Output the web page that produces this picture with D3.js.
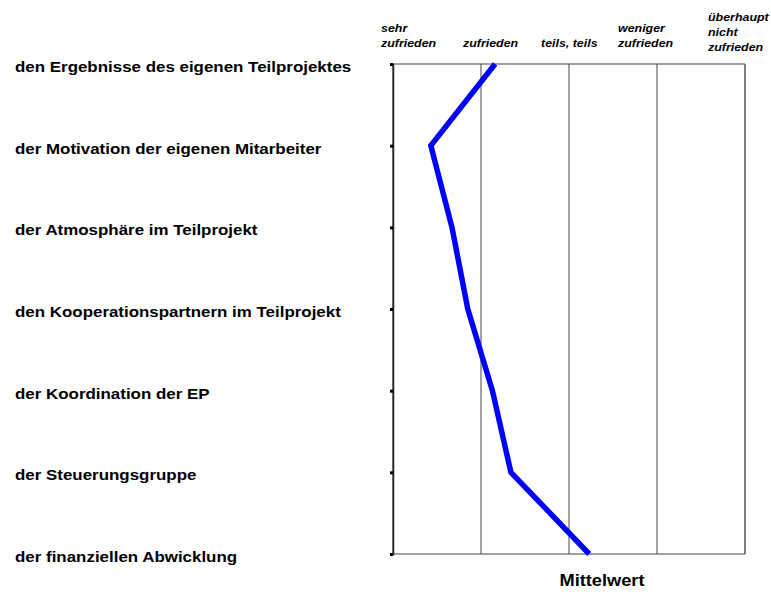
<!DOCTYPE html>
<html>
<head>
<meta charset="utf-8">
<script src="https://cdn.jsdelivr.net/npm/d3@7"></script>
<style>
  body { margin: 0; background: #fff; }
  text { font-family: Arial, 'Liberation Sans', sans-serif; }
</style>
</head>
<body>
<div id="chart"></div>
<script>
// Zufriedenheit mit ... (1 = sehr zufrieden, 5 = überhaupt nicht zufrieden)
const categories = [
  'den Ergebnisse des eigenen Teilprojektes',
  'der Motivation der eigenen Mitarbeiter',
  'der Atmosphäre im Teilprojekt',
  'den Kooperationspartnern im Teilprojekt',
  'der Koordination der EP',
  'der Steuerungsgruppe',
  'der finanziellen Abwicklung'
];
const mittelwerte = [2.16, 1.43, 1.67, 1.85, 2.13, 2.34, 3.23];
const scaleValues = [1, 2, 3, 4, 5];
const scaleLabels = [
  ['sehr', 'zufrieden'],
  ['zufrieden'],
  ['teils, teils'],
  ['weniger', 'zufrieden'],
  ['überhaupt', 'nicht', 'zufrieden']
];

const width = 771;
const height = 592;
const margin = { top: 64, right: 26, bottom: 38, left: 393 };

const svg = d3.select('#chart').append('svg')
  .attr('width', width)
  .attr('height', height);

const x = d3.scaleLinear()
  .domain([1, 5])
  .range([margin.left, width - margin.right]);

const y = d3.scalePoint()
  .domain(categories)
  .range([margin.top, height - margin.bottom]);

// vertical lines at each scale step
svg.append('g')
  .selectAll('line')
  .data(scaleValues)
  .enter().append('line')
    .attr('x1', d => x(d))
    .attr('x2', d => x(d))
    .attr('y1', y.range()[0])
    .attr('y2', y.range()[1])
    .attr('stroke', (d, i) => i === 0 || i === scaleValues.length - 1 ? '#000' : '#444')
    .attr('stroke-width', 1);

// top & bottom frame
svg.append('g')
  .selectAll('line')
  .data(y.range())
  .enter().append('line')
    .attr('x1', x(1))
    .attr('x2', x(5))
    .attr('y1', d => d)
    .attr('y2', d => d)
    .attr('stroke', '#444')
    .attr('stroke-width', 1);

// left axis with small ticks
const yAxis = d3.axisLeft(y).tickSize(3).tickFormat('');
svg.append('g')
  .attr('transform', `translate(${x(1)},0)`)
  .call(yAxis)
  .call(g => g.select('.domain').attr('stroke', '#222').attr('stroke-width', 1.5))
  .call(g => g.selectAll('.tick line').attr('stroke', '#000').attr('stroke-width', 3));

// category labels (the original font is drawn a bit wider)
svg.append('g')
  .selectAll('text')
  .data(categories)
  .enter().append('text')
    .attr('transform', d => `translate(15,${y(d) + 3}) scale(1.21,1)`)
    .attr('dy', '0.35em')
    .attr('font-size', '14px')
    .attr('font-weight', 'bold')
    .attr('fill', '#000')
    .text(d => d);

// scale labels on top
const labelShift = [-12, -18, -28, -39, -37];
const lineH = 15;
const labelG = svg.append('g')
  .selectAll('text')
  .data(scaleLabels)
  .enter().append('text')
    .attr('font-size', '11px')
    .attr('font-weight', 'bold')
    .attr('font-style', 'italic')
    .attr('fill', '#000')
    .attr('transform', (d, i) => `translate(${x(scaleValues[i]) + labelShift[i]},${i === 4 ? 51 : 47}) scale(1.13,1)`);

labelG.selectAll('tspan')
  .data(d => d.map((t, j) => ({ t, j, n: d.length })))
  .enter().append('tspan')
    .attr('x', 0)
    .attr('y', d => (d.j - d.n + 1) * lineH)
    .text(d => d.t);

// the line
const line = d3.line()
  .x(d => x(d.v))
  .y(d => y(d.c));

svg.append('path')
  .datum(categories.map((c, i) => ({ c, v: mittelwerte[i] })))
  .attr('fill', 'none')
  .attr('stroke', '#0000ff')
  .attr('stroke-width', 5.5)
  .attr('stroke-linejoin', 'miter')
  .attr('d', line);

// axis title
svg.append('text')
  .attr('transform', 'translate(602,586) scale(1.14,1)')
  .attr('text-anchor', 'middle')
  .attr('font-size', '16px')
  .attr('font-weight', 'bold')
  .attr('fill', '#000')
  .text('Mittelwert');
</script>
</body>
</html>
